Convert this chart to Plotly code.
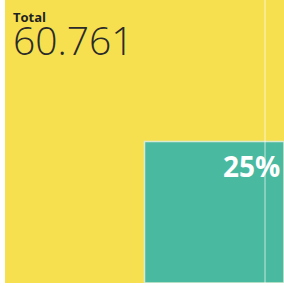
import math
import plotly.graph_objects as go

# Data
total_label = "Total"
total_value = 60.761
share_pct = 25  # percent highlighted

YELLOW = "#F6E050"
TEAL = "#49B9A0"

side = math.sqrt(share_pct / 100.0)

fig = go.Figure()
# whole (100%)
fig.add_trace(go.Scatter(
    x=[0, 1, 1, 0, 0], y=[0, 0, 1, 1, 0],
    fill="toself", fillcolor=YELLOW, mode="lines",
    line=dict(width=0, color=YELLOW), hoverinfo="skip", showlegend=False))
# share
fig.add_trace(go.Scatter(
    x=[1 - side, 1, 1, 1 - side, 1 - side], y=[0, 0, side, side, 0],
    fill="toself", fillcolor=TEAL, mode="lines",
    line=dict(width=1.5, color="#D8EBD0"), hoverinfo="skip", showlegend=False))

fig.add_annotation(x=1 - 0.008, y=side - 0.012, xref="x", yref="y",
                   text=f"<b>{share_pct}%</b>", showarrow=False,
                   xanchor="right", yanchor="top",
                   font=dict(family="Open Sans", size=28, color="white"))

fig.add_annotation(x=0.022, y=0.978, xref="x", yref="y", text=f"<b>{total_label}</b>",
                   showarrow=False, xanchor="left", yanchor="top",
                   font=dict(family="Open Sans", size=13, color="#222222"))
fig.add_annotation(x=0.02, y=0.962, xref="x", yref="y",
                   text=f"{total_value:.3f}", showarrow=False,
                   xanchor="left", yanchor="top",
                   font=dict(family="Open Sans", size=39, color="#2a2a2a", weight=300))

# faint scan line
fig.add_shape(type="line", xref="paper", yref="paper", x0=0.932, x1=0.932, y0=0, y1=1,
              line=dict(color="rgba(255,255,255,0.45)", width=1.5))

fig.update_xaxes(range=[0, 1], visible=False, fixedrange=True)
fig.update_yaxes(range=[0, 1], visible=False, fixedrange=True)
fig.update_layout(width=284, height=286,
                  margin=dict(l=5, r=0, t=0, b=3),
                  paper_bgcolor="white", plot_bgcolor="white")

fig.write_html("out.html", config={"displayModeBar": False},
               post_script="document.body.style.margin='0';document.body.style.overflow='hidden';")
